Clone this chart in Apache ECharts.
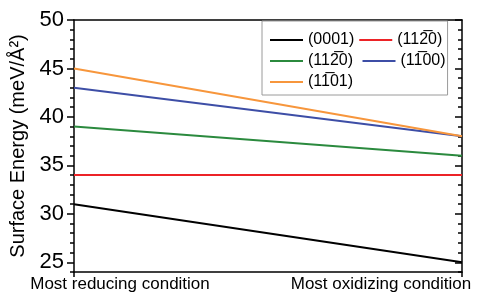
<!DOCTYPE html>
<html>
<head>
<meta charset="utf-8">
<script src="https://cdn.jsdelivr.net/npm/echarts@6/dist/echarts.min.js"></script>
<style>
  html, body { margin: 0; padding: 0; background: #fff; }
  #chart { width: 484px; height: 297px; }
</style>
</head>
<body>
<div id="chart"></div>
<script>
// conditions along x (0 = reducing, 1 = oxidizing)
var conditions = ['Most reducing condition', 'Most oxidizing condition'];
var facetNames = ['(0001)', '(112\u03050)', '(112\u03050)', '(11\u030500)', '(11\u030501)'];
var facetColors = ['#000000', '#ec2327', '#2b8a3e', '#3d4ea6', '#f7963c'];
// surface energy at each condition
var e0001 = [31, 25];
var eRed = [34, 34];
var eGreen = [39, 36];
var eBlue = [43, 38];
var eOrange = [45, 38];
var yTicks = [25, 30, 35, 40, 45, 50];

var values = [e0001, eRed, eGreen, eBlue, eOrange];
var FONT = 'Liberation Sans, Arial, sans-serif';

var chart = echarts.init(document.getElementById('chart'));

var series = values.map(function (v, i) {
    return {
        name: facetNames[i],
        type: 'line',
        data: v.map(function (y, k) { return [k, y]; }),
        showSymbol: false,
        lineStyle: { width: 2, color: facetColors[i] },
        itemStyle: { color: facetColors[i] },
        silent: true
    };
});

// two facets share a label, keep legend names unique
series[2].name = facetNames[2] + ' ';

var axisCommon = { type: 'value', min: 24, max: 50, splitLine: { show: false } };

var option = {
    animation: false,
    grid: { left: 74, right: 22, top: 20, bottom: 25 },
    legend: {
        data: series.map(function (s, i) { return { name: s.name, itemStyle: { color: facetColors[i] } }; }),
        left: 262, top: 21, width: 190,
        orient: 'horizontal',
        icon: 'rect', itemWidth: 33, itemHeight: 2, itemGap: 5,
        padding: [11, 2, 5, 8],
        borderColor: '#9a9a9a', borderWidth: 1,
        backgroundColor: '#fff',
        textStyle: { fontFamily: FONT, fontSize: 16, color: '#000', width: 54 }
    },
    xAxis: [{
        type: 'value', min: 0, max: 1, interval: 1,
        axisLine: { lineStyle: { color: '#000', width: 1.5 } },
        axisTick: { length: 5, lineStyle: { color: '#000', width: 1.5 } },
        splitLine: { show: false },
        axisLabel: {
            margin: 4,
            formatter: function (v) { return v === 0 ? '{l|' + conditions[0] + '}' : '{r|' + conditions[1] + '}'; },
            rich: {
                l: { fontFamily: FONT, fontSize: 17, color: '#000', padding: [0, 0, 0, 92] },
                r: { fontFamily: FONT, fontSize: 17, color: '#000', padding: [0, 162, 0, 0] }
            }
        }
    }, {
        type: 'value', min: 0, max: 1, position: 'top',
        axisLine: { lineStyle: { color: '#000', width: 1.5 } },
        axisTick: { show: false }, axisLabel: { show: false }, splitLine: { show: false }
    }],
    yAxis: [
        Object.assign({}, axisCommon, {
            interval: 1,
            position: 'left',
            name: 'Surface Energy (meV/\u00C5\u00B2)',
            nameLocation: 'middle', nameGap: 39,
            nameTextStyle: { fontFamily: FONT, fontSize: 20, color: '#000' },
            axisLine: { lineStyle: { color: '#000', width: 1.5 } },
            axisTick: { customValues: yTicks, length: 7, lineStyle: { color: '#000', width: 1.5 } },
            axisLabel: { customValues: yTicks, margin: 10, fontFamily: FONT, fontSize: 22, color: '#000' }
        }),
        Object.assign({}, axisCommon, {
            interval: 1, position: 'left',
            axisLine: { show: false },
            axisTick: { length: 4, lineStyle: { color: '#000', width: 1.5 } },
            axisLabel: { show: false }
        }),
        Object.assign({}, axisCommon, {
            interval: 1, position: 'right',
            axisLine: { lineStyle: { color: '#000', width: 1.5 } },
            axisTick: { inside: true, customValues: yTicks, length: 7, lineStyle: { color: '#000', width: 1.5 } },
            axisLabel: { show: false }
        }),
        Object.assign({}, axisCommon, {
            interval: 1, position: 'right',
            axisLine: { show: false },
            axisTick: { inside: true, length: 4, lineStyle: { color: '#000', width: 1.5 } },
            axisLabel: { show: false }
        })
    ],
    series: series
};

chart.setOption(option);
</script>
</body>
</html>
